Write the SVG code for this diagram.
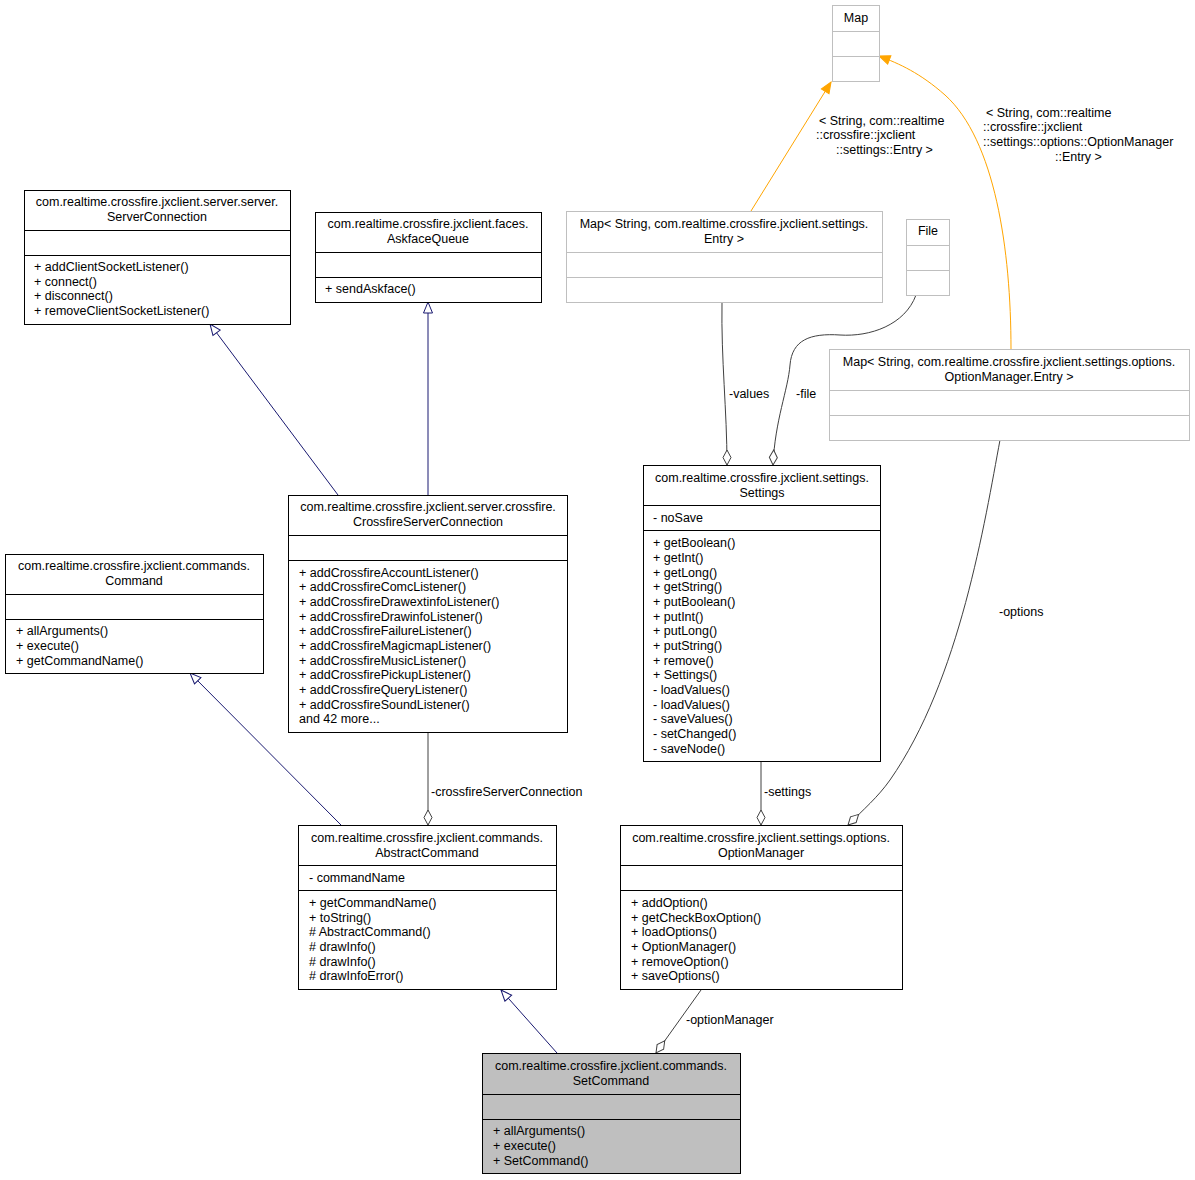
<svg xmlns="http://www.w3.org/2000/svg" width="1195" height="1180" viewBox="0 0 1195 1180">
<style>
text{font-family:"Liberation Sans",Arial,sans-serif;font-size:12.5px;fill:#000}
.c{text-anchor:middle}
.b{fill:#fff;stroke:#000;stroke-width:1}
.g{fill:#fff;stroke:#bfbfbf;stroke-width:1}
.s{fill:#bfbfbf;stroke:#000;stroke-width:1}
.d{stroke:#000;stroke-width:1}
.dg{stroke:#bfbfbf;stroke-width:1}
.inh{fill:none;stroke:#191970;stroke-width:1;marker-end:url(#tri)}
.agg{fill:none;stroke:#404040;stroke-width:1;marker-end:url(#dia)}
.tpl{fill:none;stroke:#ffa500;stroke-width:1;marker-end:url(#otri)}
</style>
<defs>
<marker id="tri" markerUnits="userSpaceOnUse" markerWidth="14" markerHeight="12" refX="12" refY="6" orient="auto" viewBox="0 0 14 12"><path d="M1,1.5 L12,6 L1,10.5 Z" fill="#fff" stroke="#191970" stroke-width="1"/></marker>
<marker id="otri" markerUnits="userSpaceOnUse" markerWidth="14" markerHeight="12" refX="12" refY="6" orient="auto" viewBox="0 0 14 12"><path d="M1,1.5 L12,6 L1,10.5 Z" fill="#ffa500" stroke="#ffa500" stroke-width="1"/></marker>
<marker id="dia" markerUnits="userSpaceOnUse" markerWidth="18" markerHeight="10" refX="16" refY="5" orient="auto" viewBox="0 0 18 10"><path d="M1,5 L8.5,1 L16,5 L8.5,9 Z" fill="#fff" stroke="#404040" stroke-width="1"/></marker>
</defs>
<rect width="1195" height="1180" fill="#fff"/>

<g id="edges">
<path class="inh" d="M338,495 L210,324"/>
<path class="inh" d="M428,495 L428,302"/>
<path class="inh" d="M341,825 L190,673"/>
<path class="inh" d="M557,1053 L501,990"/>
<path class="agg" d="M428,732 L428,825"/>
<text x="431" y="796">-crossfireServerConnection</text>
<path class="agg" d="M761,761 L761,825"/>
<text x="764" y="796">-settings</text>
<path class="agg" d="M701,990 L656,1053"/>
<text x="686" y="1024">-optionManager</text>
<path class="agg" d="M722,302 C721,360 727,410 727,465"/>
<text x="729" y="398">-values</text>
<path class="agg" d="M916,295 C905,325 870,337 840,335 C810,333 792,340 790,365 C788,390 775,420 773,465"/>
<text x="796" y="398">-file</text>
<path class="agg" d="M1000,440 C985,520 960,680 890,780 C878,797 863,810 848,825"/>
<text x="999" y="616">-options</text>
<path class="tpl" d="M751,211 L831,82"/>
<text x="819" y="125">&lt; String, com::realtime</text>
<text x="816" y="139">::crossfire::jxclient</text>
<text x="836" y="154">::settings::Entry &gt;</text>
<path class="tpl" d="M1011,349 C1011,250 995,140 945,95 C920,73 900,64 879,56"/>
<text x="986" y="117">&lt; String, com::realtime</text>
<text x="983" y="131">::crossfire::jxclient</text>
<text x="983" y="146">::settings::options::OptionManager</text>
<text x="1055" y="161">::Entry &gt;</text>
</g>

<g id="Map">
<rect class="g" x="832.5" y="5.5" width="47" height="76"/>
<line class="dg" x1="832.5" y1="31.5" x2="879.5" y2="31.5"/>
<line class="dg" x1="832.5" y1="56.5" x2="879.5" y2="56.5"/>
<text class="c" x="856" y="22">Map</text>
</g>

<g id="MapSettingsEntry">
<rect class="g" x="566.5" y="211.5" width="316" height="91"/>
<line class="dg" x1="566.5" y1="252.5" x2="882.5" y2="252.5"/>
<line class="dg" x1="566.5" y1="277.5" x2="882.5" y2="277.5"/>
<text class="c" x="724" y="228">Map&lt; String, com.realtime.crossfire.jxclient.settings.</text>
<text class="c" x="724" y="243">Entry &gt;</text>
</g>

<g id="File">
<rect class="g" x="906.5" y="219.5" width="43" height="76"/>
<line class="dg" x1="906.5" y1="245.5" x2="949.5" y2="245.5"/>
<line class="dg" x1="906.5" y1="270.5" x2="949.5" y2="270.5"/>
<text class="c" x="928" y="235">File</text>
</g>

<g id="MapOptionEntry">
<rect class="g" x="829.5" y="349.5" width="360" height="91"/>
<line class="dg" x1="829.5" y1="390.5" x2="1189.5" y2="390.5"/>
<line class="dg" x1="829.5" y1="415.5" x2="1189.5" y2="415.5"/>
<text class="c" x="1009" y="366">Map&lt; String, com.realtime.crossfire.jxclient.settings.options.</text>
<text class="c" x="1009" y="381">OptionManager.Entry &gt;</text>
</g>

<g id="ServerConnection">
<rect class="b" x="24.5" y="190.5" width="266" height="134"/>
<line class="d" x1="24.5" y1="230.5" x2="290.5" y2="230.5"/>
<line class="d" x1="24.5" y1="255.5" x2="290.5" y2="255.5"/>
<text class="c" x="157" y="206">com.realtime.crossfire.jxclient.server.server.</text>
<text class="c" x="157" y="221">ServerConnection</text>
<text x="34" y="271">+ addClientSocketListener()</text>
<text x="34" y="286">+ connect()</text>
<text x="34" y="300">+ disconnect()</text>
<text x="34" y="315">+ removeClientSocketListener()</text>
</g>

<g id="AskfaceQueue">
<rect class="b" x="315.5" y="212.5" width="226" height="90"/>
<line class="d" x1="315.5" y1="252.5" x2="541.5" y2="252.5"/>
<line class="d" x1="315.5" y1="277.5" x2="541.5" y2="277.5"/>
<text class="c" x="428" y="228">com.realtime.crossfire.jxclient.faces.</text>
<text class="c" x="428" y="243">AskfaceQueue</text>
<text x="325" y="293">+ sendAskface()</text>
</g>

<g id="CrossfireServerConnection">
<rect class="b" x="288.5" y="495.5" width="279" height="237"/>
<line class="d" x1="288.5" y1="535.5" x2="567.5" y2="535.5"/>
<line class="d" x1="288.5" y1="560.5" x2="567.5" y2="560.5"/>
<text class="c" x="428" y="511">com.realtime.crossfire.jxclient.server.crossfire.</text>
<text class="c" x="428" y="526">CrossfireServerConnection</text>
<text x="299" y="577">+ addCrossfireAccountListener()</text>
<text x="299" y="591">+ addCrossfireComcListener()</text>
<text x="299" y="606">+ addCrossfireDrawextinfoListener()</text>
<text x="299" y="621">+ addCrossfireDrawinfoListener()</text>
<text x="299" y="635">+ addCrossfireFailureListener()</text>
<text x="299" y="650">+ addCrossfireMagicmapListener()</text>
<text x="299" y="665">+ addCrossfireMusicListener()</text>
<text x="299" y="679">+ addCrossfirePickupListener()</text>
<text x="299" y="694">+ addCrossfireQueryListener()</text>
<text x="299" y="709">+ addCrossfireSoundListener()</text>
<text x="299" y="723">and 42 more...</text>
</g>

<g id="Command">
<rect class="b" x="5.5" y="554.5" width="258" height="119"/>
<line class="d" x1="5.5" y1="594.5" x2="263.5" y2="594.5"/>
<line class="d" x1="5.5" y1="619.5" x2="263.5" y2="619.5"/>
<text class="c" x="134" y="570">com.realtime.crossfire.jxclient.commands.</text>
<text class="c" x="134" y="585">Command</text>
<text x="16" y="635">+ allArguments()</text>
<text x="16" y="650">+ execute()</text>
<text x="16" y="665">+ getCommandName()</text>
</g>

<g id="Settings">
<rect class="b" x="643.5" y="465.5" width="237" height="296"/>
<line class="d" x1="643.5" y1="505.5" x2="880.5" y2="505.5"/>
<line class="d" x1="643.5" y1="530.5" x2="880.5" y2="530.5"/>
<text class="c" x="762" y="482">com.realtime.crossfire.jxclient.settings.</text>
<text class="c" x="762" y="497">Settings</text>
<text x="653" y="522">- noSave</text>
<text x="653" y="547">+ getBoolean()</text>
<text x="653" y="562">+ getInt()</text>
<text x="653" y="577">+ getLong()</text>
<text x="653" y="591">+ getString()</text>
<text x="653" y="606">+ putBoolean()</text>
<text x="653" y="621">+ putInt()</text>
<text x="653" y="635">+ putLong()</text>
<text x="653" y="650">+ putString()</text>
<text x="653" y="665">+ remove()</text>
<text x="653" y="679">+ Settings()</text>
<text x="653" y="694">- loadValues()</text>
<text x="653" y="709">- loadValues()</text>
<text x="653" y="723">- saveValues()</text>
<text x="653" y="738">- setChanged()</text>
<text x="653" y="753">- saveNode()</text>
</g>

<g id="AbstractCommand">
<rect class="b" x="298.5" y="825.5" width="258" height="164"/>
<line class="d" x1="298.5" y1="865.5" x2="556.5" y2="865.5"/>
<line class="d" x1="298.5" y1="890.5" x2="556.5" y2="890.5"/>
<text class="c" x="427" y="842">com.realtime.crossfire.jxclient.commands.</text>
<text class="c" x="427" y="857">AbstractCommand</text>
<text x="309" y="882">- commandName</text>
<text x="309" y="907">+ getCommandName()</text>
<text x="309" y="922">+ toString()</text>
<text x="309" y="936"># AbstractCommand()</text>
<text x="309" y="951"># drawInfo()</text>
<text x="309" y="966"># drawInfo()</text>
<text x="309" y="980"># drawInfoError()</text>
</g>

<g id="OptionManager">
<rect class="b" x="620.5" y="825.5" width="282" height="164"/>
<line class="d" x1="620.5" y1="865.5" x2="902.5" y2="865.5"/>
<line class="d" x1="620.5" y1="890.5" x2="902.5" y2="890.5"/>
<text class="c" x="761" y="842">com.realtime.crossfire.jxclient.settings.options.</text>
<text class="c" x="761" y="857">OptionManager</text>
<text x="631" y="907">+ addOption()</text>
<text x="631" y="922">+ getCheckBoxOption()</text>
<text x="631" y="936">+ loadOptions()</text>
<text x="631" y="951">+ OptionManager()</text>
<text x="631" y="966">+ removeOption()</text>
<text x="631" y="980">+ saveOptions()</text>
</g>

<g id="SetCommand">
<rect class="s" x="482.5" y="1053.5" width="258" height="120"/>
<line class="d" x1="482.5" y1="1094.5" x2="740.5" y2="1094.5"/>
<line class="d" x1="482.5" y1="1119.5" x2="740.5" y2="1119.5"/>
<text class="c" x="611" y="1070">com.realtime.crossfire.jxclient.commands.</text>
<text class="c" x="611" y="1085">SetCommand</text>
<text x="493" y="1135">+ allArguments()</text>
<text x="493" y="1150">+ execute()</text>
<text x="493" y="1165">+ SetCommand()</text>
</g>
</svg>
